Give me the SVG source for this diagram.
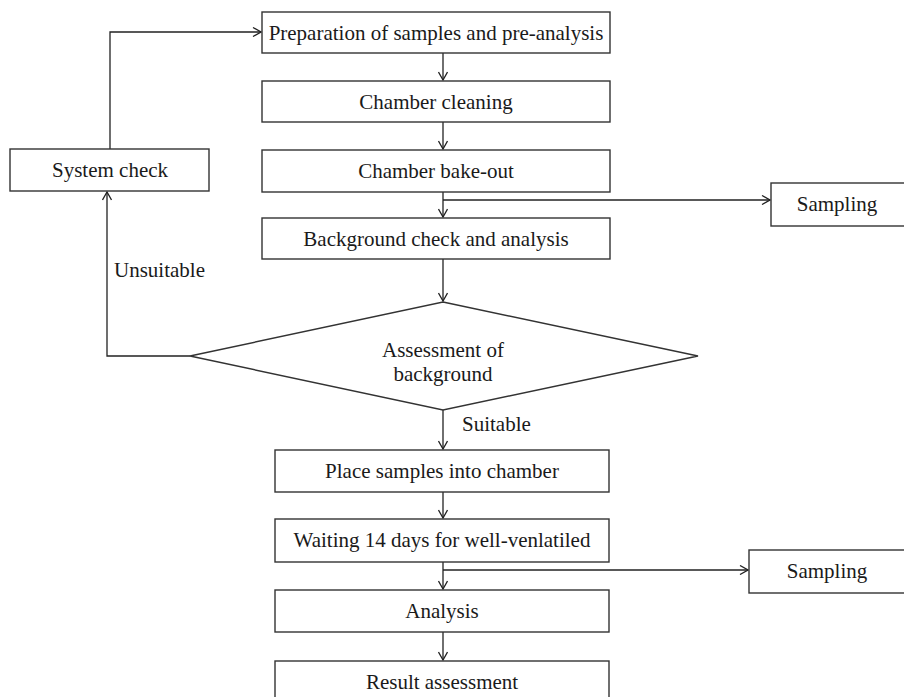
<svg xmlns="http://www.w3.org/2000/svg" width="904" height="697" viewBox="0 0 904 697">
<defs>
<marker id="arr" markerWidth="10" markerHeight="10" refX="9" refY="5" orient="auto" markerUnits="userSpaceOnUse">
<path d="M1,0.5 L9,5 L1,9.5" fill="none" stroke="#222" stroke-width="1.3"/>
</marker>
<style>
.box{fill:#fff;stroke:#333;stroke-width:1.4}
.t{font-family:"Liberation Serif","Times New Roman",serif;font-size:21px;fill:#1a1a1a;text-anchor:middle}
.tl{font-family:"Liberation Serif","Times New Roman",serif;font-size:21px;fill:#1a1a1a}
.c{fill:none;stroke:#222;stroke-width:1.3}
.ca{fill:none;stroke:#222;stroke-width:1.3;marker-end:url(#arr)}
</style>
</defs>
<rect width="904" height="697" fill="#fff"/>
<g id="connectors">
<polyline class="ca" points="110,149 110,32 261,32"/>
<line class="ca" x1="443" y1="53" x2="443" y2="80"/>
<line class="ca" x1="443" y1="122" x2="443" y2="149"/>
<line class="ca" x1="443" y1="192" x2="443" y2="217"/>
<line class="ca" x1="443" y1="200" x2="770" y2="200"/>
<line class="ca" x1="443" y1="259" x2="443" y2="301"/>
<polyline class="ca" points="190,356 107,356 107,192"/>
<line class="ca" x1="443" y1="410" x2="443" y2="449"/>
<line class="ca" x1="443" y1="492" x2="443" y2="518"/>
<line class="ca" x1="443" y1="562" x2="443" y2="589"/>
<line class="ca" x1="443" y1="570" x2="748" y2="570"/>
<line class="ca" x1="443" y1="632" x2="443" y2="660"/>
<text class="tl" x="114" y="277">Unsuitable</text>
<text class="tl" x="462" y="431">Suitable</text>
</g>
<g id="prep"><rect class="box" x="262" y="12" width="348" height="41"/><text class="t" x="436" y="40">Preparation of samples and pre-analysis</text></g>
<g id="cleaning"><rect class="box" x="262" y="81" width="348" height="41"/><text class="t" x="436" y="109">Chamber cleaning</text></g>
<g id="bakeout"><rect class="box" x="262" y="150" width="348" height="42"/><text class="t" x="436" y="178">Chamber bake-out</text></g>
<g id="background"><rect class="box" x="262" y="218" width="348" height="41"/><text class="t" x="436" y="246">Background check and analysis</text></g>
<g id="system-check"><rect class="box" x="10" y="149" width="199" height="42"/><text class="t" x="110" y="177">System check</text></g>
<g id="sampling1"><rect class="box" x="771" y="183" width="140" height="43"/><text class="t" x="837" y="211">Sampling</text></g>
<g id="assessment"><polygon class="box" points="443,302 698,356 443,410 190,356"/><text class="t" x="443" y="357">Assessment of</text><text class="t" x="443" y="381">background</text></g>
<g id="place"><rect class="box" x="275" y="450" width="334" height="42"/><text class="t" x="442" y="478">Place samples into chamber</text></g>
<g id="waiting"><rect class="box" x="275" y="519" width="334" height="43"/><text class="t" x="442" y="547">Waiting 14 days for well-venlatiled</text></g>
<g id="sampling2"><rect class="box" x="749" y="550" width="160" height="43"/><text class="t" x="827" y="578">Sampling</text></g>
<g id="analysis"><rect class="box" x="275" y="590" width="334" height="42"/><text class="t" x="442" y="618">Analysis</text></g>
<g id="result"><rect class="box" x="275" y="661" width="334" height="45"/><text class="t" x="442" y="689">Result assessment</text></g>
</svg>
